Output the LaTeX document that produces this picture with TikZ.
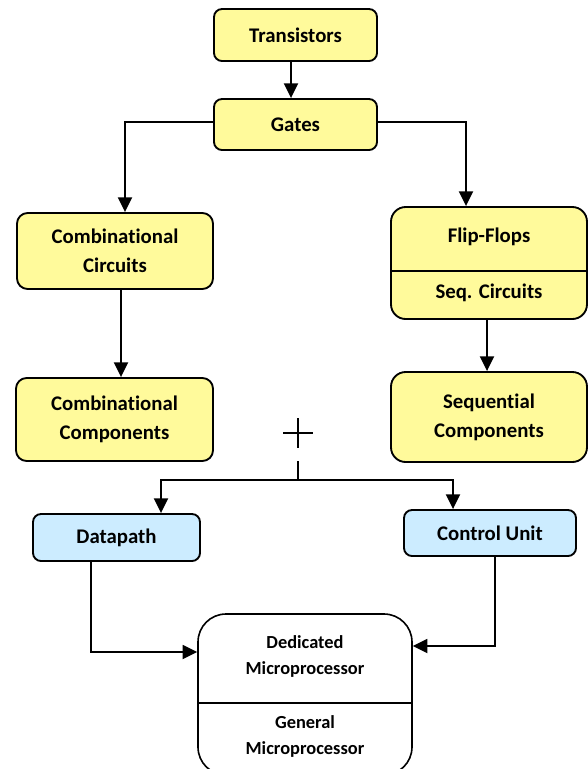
\documentclass[tikz,border=0pt]{standalone}
\usepackage{fontspec}
\setmainfont{Carlito}[Ligatures=NoCommon]
\usetikzlibrary{arrows.meta,calc}
\definecolor{boxyellow}{RGB}{255,250,155}
\definecolor{boxblue}{RGB}{204,236,255}
\begin{document}
\begin{tikzpicture}[x=0.75pt,y=-0.75pt,
  every node/.style={font=\bfseries\fontsize{15.6pt}{22pt}\selectfont, align=center, inner sep=0pt},
  ybox/.style={draw, line width=1.4pt, fill=boxyellow, rounded corners=#1},
  bbox/.style={draw, line width=1.4pt, fill=boxblue, rounded corners=#1},
  wbox/.style={draw, line width=1.2pt, fill=white, rounded corners=#1},
  smalltext/.style={font=\bfseries\fontsize{13.8pt}{20pt}\selectfont},
  conn/.style={line width=1.4pt},
  arr/.style={conn, -{Triangle[length=11pt,width=10.5pt]}}
]
\useasboundingbox (0,0) rectangle (588,769);
\clip (0,0) rectangle (588,769);

% top chain
\node[ybox=6pt, minimum width=122.25pt, minimum height=39pt] (trans) at (295.5,35) {Transistors};
\node[ybox=6pt, minimum width=122.25pt, minimum height=38.25pt] (gates) at (295.5,124.5) {Gates};

% combinational branch
\node[ybox=8pt, minimum width=147pt, minimum height=57pt] (combc) at (115,251) {Combinational\\Circuits};
\node[ybox=8pt, minimum width=147.75pt, minimum height=62.25pt] (combp) at (114.5,419.5) {Combinational\\Components};

% sequential branch
\node[ybox=11pt, minimum width=147pt, minimum height=84pt] (flip) at (489,263) {};
\coordinate (ffdiv) at (0,271);
\draw[line width=1.2pt] (flip.west |- ffdiv) -- (flip.east |- ffdiv);
\node (fftxt) at (489,237) {Flip-Flops};
\node (sctxt) at (489,293) {Seq. Circuits};
\node[ybox=11pt, minimum width=147pt, minimum height=67.5pt] (seqc) at (489,417) {Sequential\\Components};

% datapath and control unit
\node[bbox=6pt, minimum width=125.25pt, minimum height=35.25pt] (dp) at (116.5,537.5) {Datapath};
\node[bbox=6pt, minimum width=129pt, minimum height=34.5pt] (cu) at (490,533) {Control Unit};

% microprocessor box
\node[wbox=21pt, minimum width=160.5pt, minimum height=120.75pt] (ded) at (305,694.5) {};
\coordinate (mpdiv) at (0,703);
\draw[line width=1.2pt] (ded.west |- mpdiv) -- (ded.east |- mpdiv);
\node[smalltext] (dedtxt) at (305,656.5) {Dedicated\\Microprocessor};
\node[smalltext] (gentxt) at (305,736.5) {General\\Microprocessor};

% connectors
\draw[arr] ($(trans.south)+(-4.5,0)$) coordinate (ta) -- (ta |- gates.north);
\draw[arr] ($(gates.west)+(0,-2.5)$) -| ($(combc.north)+(10,0)$);
\draw[arr] ($(gates.east)+(0,-2.5)$) -| ($(flip.north)+(-23,0)$);
\draw[arr] ($(combc.south)+(6,0)$) coordinate (ca) -- (ca |- combp.north);
\draw[arr] ($(flip.south)+(-2,0)$) coordinate (fa) -- (fa |- seqc.north);

% plus sign and split towards datapath / control unit
\coordinate (plus) at (298,433);
\draw[line width=0.9pt] ($(plus)+(-15,0)$) -- ($(plus)+(15,0)$)
                        ($(plus)+(0,-15)$) -- ($(plus)+(0,15)$);
\coordinate (splittop) at (298,461);
\coordinate (split) at (298,480);
\draw[conn] (splittop) -- (split);
\draw[arr] (split) -| ($(dp.north)+(44.5,0)$);
\draw[arr] (split) -| ($(cu.north)+(-37,0)$);

\draw[arr] ($(dp.south)+(-25.5,0)$) |- ($(ded.west)+(0,-42.5)$);
\draw[arr] ($(cu.south)+(5,0)$) |- ($(ded.east)+(0,-48.5)$);
\end{tikzpicture}
\end{document}
